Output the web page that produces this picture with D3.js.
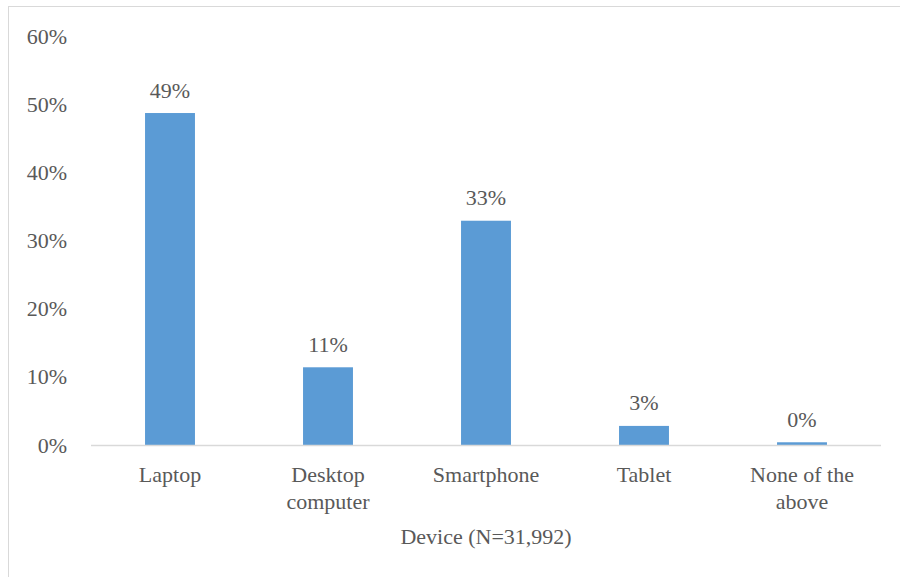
<!DOCTYPE html>
<html>
<head>
<meta charset="utf-8">
<script src="https://cdn.jsdelivr.net/npm/d3@7"></script>
</head>
<body style="margin:0">
<svg id="s" width="900" height="577"></svg>
<script>
const categories = [["Laptop"], ["Desktop", "computer"], ["Smartphone"], ["Tablet"], ["None of the", "above"]];
const values = [48.7, 11.4, 32.9, 2.8, 0.4];
const valueLabels = ["49%", "11%", "33%", "3%", "0%"];
const yTicks = [0, 10, 20, 30, 40, 50, 60];
const xTitle = "Device (N=31,992)";

const FONT = "'Liberation Serif'";
const FS = 22;
const TXT = "#595959";

const svg = d3.select("#s");
const W = 900, H = 577;
const mLeft = 91, mRight = 881, mTop = 36, mBottom = 445;

// outer frame
svg.append("rect").attr("x", 8.5).attr("y", 6.5).attr("width", W).attr("height", H)
  .attr("fill", "none").attr("stroke", "#d9d9d9").attr("stroke-width", 1);

const names = categories.map(c => c.join(" "));
const x = d3.scaleBand().domain(names).range([mLeft, mRight]).paddingInner(0.684).paddingOuter(0.342);
const y = d3.scaleLinear().domain([0, 60]).range([mBottom, mTop]);

function styleText(sel) {
  return sel.style("font-family", FONT).attr("font-size", FS).attr("fill", TXT);
}

// y axis labels
const yAxis = d3.axisLeft(y).tickValues(yTicks).tickFormat(d => d + "%").tickSize(0).tickPadding(0);
const ya = svg.append("g").attr("transform", `translate(67,0)`).call(yAxis);
ya.attr("font-family", null).attr("font-size", null);
ya.select(".domain").remove();
styleText(ya.selectAll("text"));

// bars
svg.append("g").selectAll("rect").data(values).join("rect")
  .attr("x", (d, i) => x(names[i]))
  .attr("y", d => y(d))
  .attr("width", x.bandwidth())
  .attr("height", d => y(0) - y(d))
  .attr("fill", "#5b9bd5");

// baseline
svg.append("line").attr("x1", mLeft).attr("x2", mRight).attr("y1", y(0) + 0.5).attr("y2", y(0) + 0.5)
  .attr("stroke", "#d9d9d9").attr("stroke-width", 1.5);

// value labels
styleText(svg.selectAll("text.vlab").data(values).join("text")
  .attr("class", "vlab")
  .attr("x", (d, i) => x(names[i]) + x.bandwidth() / 2)
  .attr("y", d => y(d) - 15.5)
  .attr("text-anchor", "middle"))
  .text((d, i) => valueLabels[i]);

// category labels
const cat = styleText(svg.selectAll("text.clab").data(categories).join("text")
  .attr("class", "clab")
  .attr("x", (d, i) => x(names[i]) + x.bandwidth() / 2)
  .attr("y", 481.5)
  .attr("text-anchor", "middle"));
cat.each(function(d) {
  const t = d3.select(this);
  d.forEach((line, j) => {
    t.append("tspan").attr("x", t.attr("x")).attr("dy", j === 0 ? 0 : 27).text(line);
  });
});

// x axis title
styleText(svg.append("text").attr("x", (mLeft + mRight) / 2).attr("y", 543.5)
  .attr("text-anchor", "middle"))
  .text(xTitle);
</script>
</body>
</html>
